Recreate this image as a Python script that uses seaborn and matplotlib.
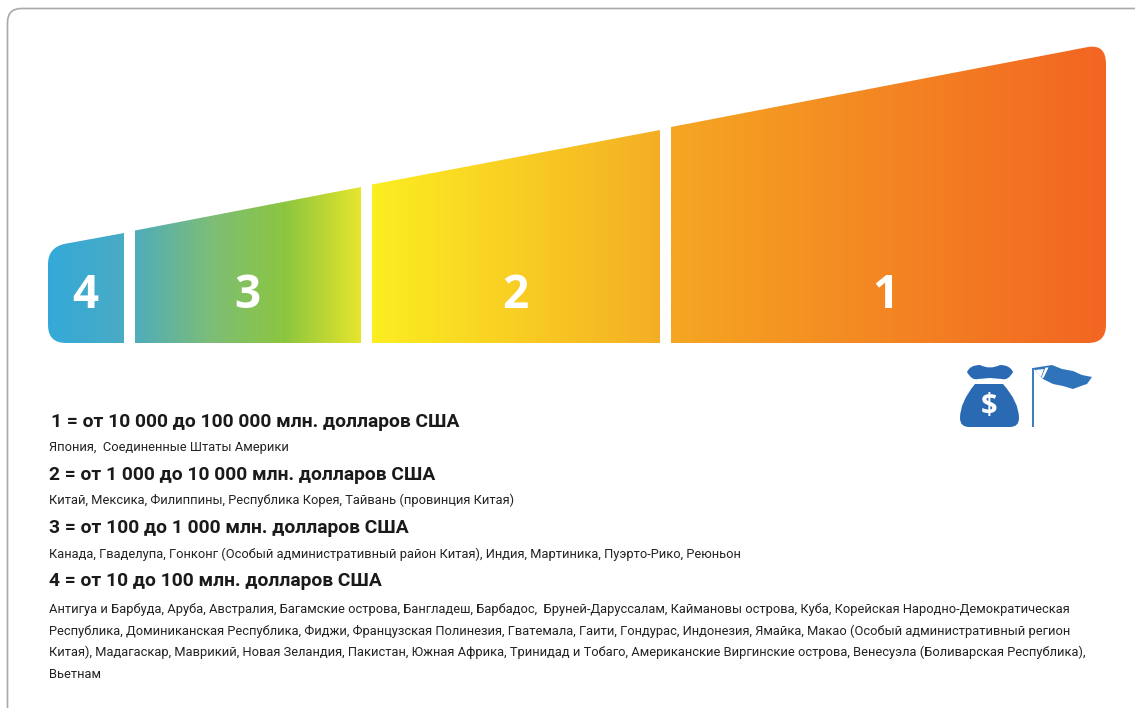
import matplotlib
matplotlib.use("Agg")
import matplotlib.pyplot as plt
import numpy as np
import seaborn as sns
from matplotlib.path import Path
from matplotlib.patches import PathPatch, FancyBboxPatch, Polygon, Rectangle

# ---- data ----
ranks = ["4", "3", "2", "1"]
seg_left = [48, 135, 372, 671]
seg_right = [124, 361, 660, 1106]
top_left = [246, 230.5, 184.5, 127]
top_right = [233, 187, 130, 46]
seg_colors = [
    ["#34a9d9", "#4aabc4"],
    ["#4fadba", "#7dbd78", "#8cc63f", "#e6e52d"],
    ["#fcee21", "#f5ae25"],
    ["#f5a623", "#f26522"],
]
headers = [
    "1 = от 10 000 до 100 000 млн. долларов США",
    "2 = от 1 000 до 10 000 млн. долларов США",
    "3 = от 100 до 1 000 млн. долларов США",
    "4 = от 10 до 100 млн. долларов США",
]
header_y = [422, 475, 528, 581]
header_x = [51, 49, 49, 49]
bodies = [
    "Япония,  Соединенные Штаты Америки",
    "Китай, Мексика, Филиппины, Республика Корея, Тайвань (провинция Китая)",
    "Канада, Гваделупа, Гонконг (Особый административный район Китая), Индия, Мартиника, Пуэрто-Рико, Реюньон",
    "Антигуа и Барбуда, Аруба, Австралия, Багамские острова, Бангладеш, Барбадос,  Бруней-Даруссалам, Каймановы острова, Куба, Корейская Народно-Демократическая",
    "Республика, Доминиканская Республика, Фиджи, Французская Полинезия, Гватемала, Гаити, Гондурас, Индонезия, Ямайка, Макао (Особый административный регион",
    "Китая), Мадагаскар, Маврикий, Новая Зеландия, Пакистан, Южная Африка, Тринидад и Тобаго, Американские Виргинские острова, Венесуэла (Боливарская Республика),",
    "Вьетнам",
]
body_y = [448, 500, 554, 609, 631, 652, 674]

sns.set_theme(style="white")
NARROW = ["Roboto", "DejaVu Sans"]

fig = plt.figure(figsize=(11.35, 7.08), dpi=100, facecolor="white")
ax = fig.add_axes([0, 0, 1, 1])
ax.set_xlim(0, 1135)
ax.set_ylim(708, 0)
ax.axis("off")

# card outline
ax.add_patch(FancyBboxPatch((7.5, 8.5), 1300, 900, boxstyle="round,pad=0,rounding_size=14",
                            fc="white", ec="#a9a9a9", lw=1.2, zorder=0))

BOTTOM = 343
R = 18
M, L, C3, CP = Path.MOVETO, Path.LINETO, Path.CURVE3, Path.CLOSEPOLY


def seg_path(i):
    l, r, tl, tr = seg_left[i], seg_right[i], top_left[i], top_right[i]
    if ranks[i] == "4":
        verts = [(r, BOTTOM), (l + R, BOTTOM), (l, BOTTOM), (l, BOTTOM - R), (l, tl + 18), (l, tl + 2), (l + 16, tl - 2), (r, tr), (r, BOTTOM)]
        codes = [M, L, C3, C3, L, C3, C3, L, CP]
    elif ranks[i] == "1":
        verts = [(l, BOTTOM), (l, tl), (r - 18, tr + 1), (r, tr - 2), (r, tr + 18), (r, BOTTOM - R), (r, BOTTOM), (r - R, BOTTOM), (l, BOTTOM)]
        codes = [M, L, L, C3, C3, L, C3, C3, CP]
    else:
        verts = [(l, BOTTOM), (l, tl), (r, tr), (r, BOTTOM), (l, BOTTOM)]
        codes = [M, L, L, L, CP]
    return Path(verts, codes)


label_x = [85, 247, 515, 885]
for i, rank in enumerate(ranks):
    cmap = sns.blend_palette(seg_colors[i], as_cmap=True)
    grad = np.linspace(0, 1, 256).reshape(1, -1)
    im = ax.imshow(grad, cmap=cmap, extent=(seg_left[i], seg_right[i], BOTTOM, min(top_left[i], top_right[i]) - 3),
                   aspect="auto", zorder=2, interpolation="bilinear")
    clip = PathPatch(seg_path(i), transform=ax.transData, fc="none", ec="none")
    ax.add_patch(clip)
    im.set_clip_path(clip)
    ax.text(label_x[i], 295, rank, color="white", fontsize=33, fontweight="bold",
            family="Open Sans", ha="center", va="center", zorder=3)
ax.set_xlim(0, 1135)
ax.set_ylim(708, 0)

# icons
BLUE = "#2a6ab3"
bag = Path([(975, 384), (1003, 384), (1019, 402), (1019, 418), (1019, 427), (1010, 427),
            (969, 427), (960, 427), (960, 418), (960, 402), (975, 384)],
           [M, L, C3, C3, C3, C3, L, C3, C3, C3, C3])
ax.add_patch(PathPatch(bag, fc=BLUE, ec="none", zorder=3))
tie = Path([(967, 372), (970, 365), (980, 365), (990, 370), (1000, 365), (1010, 365), (1013, 372),
            (1008, 381), (1002, 379), (990, 378), (978, 379), (972, 381), (967, 372)],
           [M, C3, C3, C3, L, C3, C3, C3, L, L, L, C3, C3])
ax.add_patch(PathPatch(tie, fc=BLUE, ec="none", zorder=3))
ax.text(989.5, 407, "$", color="white", fontsize=21, fontweight="bold", family="Open Sans",
        ha="center", va="center", zorder=4)
ax.add_patch(Rectangle((1031.8, 368), 2.2, 59, fc="#3f7fc0", ec="none", zorder=3))
flag = Path([(1033, 368), (1052, 365), (1062, 369), (1073, 371), (1082, 375), (1092, 377),
             (1087, 384), (1081, 386), (1073, 389), (1063, 386), (1053, 384), (1043, 379), (1033, 368)],
            [M, L, L, L, L, L, L, L, L, L, L, L, L])
ax.add_patch(PathPatch(flag, fc="#2f74bb", ec="none", zorder=3))
ax.add_patch(Polygon([(1035, 370), (1044, 369), (1041, 377)], closed=True, fc="white", ec="none", zorder=4))
ax.add_patch(Polygon([(1045.5, 367.5), (1048.5, 367.5), (1043.5, 378), (1041.5, 377.5)], closed=True, fc="white", ec="none", zorder=4))

# text block
for x, y, s in zip(header_x, header_y, headers):
    ax.text(x, y, s, fontsize=13.85, fontweight="bold", family=NARROW, color="#1a1a1a",
            ha="left", va="center", zorder=3)
for y, s in zip(body_y, bodies):
    ax.text(49, y, s, fontsize=9.3, family=NARROW, color="#222222", ha="left", va="center", zorder=3)

fig.savefig("out.png", dpi=100, facecolor="white")
